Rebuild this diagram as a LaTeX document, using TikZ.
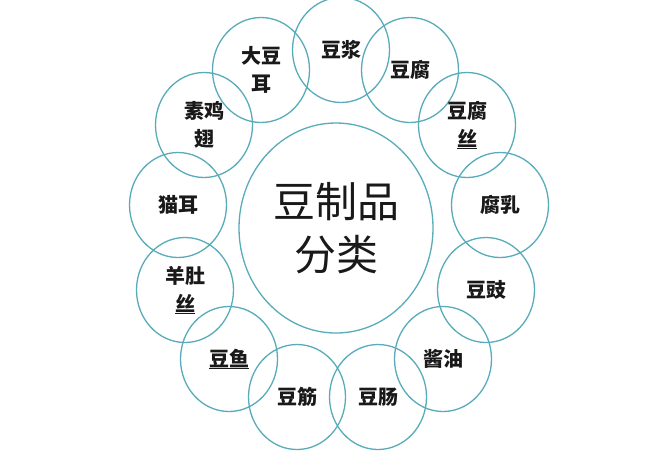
\documentclass[tikz,border=0pt]{standalone}
\usepackage{fontspec}
\newfontfamily\cjk{Noto Sans CJK SC}
\usetikzlibrary{shapes.geometric}
\definecolor{ringcol}{RGB}{88,172,186}
\tikzset{
  small/.style={ellipse, draw=ringcol, line width=1.3pt, inner sep=0pt,
    minimum width=97pt, minimum height=105pt, align=center,
    font=\cjk\bfseries\fontsize{20}{28}\selectfont, text=black!90},
  big/.style={ellipse, draw=ringcol, line width=1.3pt, inner sep=0pt,
    minimum width=194pt, minimum height=210pt, align=center,
    font=\cjk\fontsize{42}{53}\selectfont, text=black!90}
}
\begin{document}
\begin{tikzpicture}[x=1pt,y=-1pt]
\useasboundingbox (0,0) rectangle (660,451);
\fill[white] (0,0) rectangle (660,451);
\node[big] (c) at (336,228) {豆制品\\分类};
\node[small] (a1) at (341,50) {豆浆};
\node[small] (a2) at (410,70) {豆腐};
\node[small] (a3) at (467,125) {豆腐\\\underline{丝}};
\node[small] (a4) at (500,205) {腐乳};
\node[small] (a5) at (486,290) {豆豉};
\node[small] (a6) at (443,359) {酱油};
\node[small] (a7) at (378,397) {豆肠};
\node[small] (a8) at (297,397) {豆筋};
\node[small] (a9) at (229,359) {\underline{豆鱼}};
\node[small] (a10) at (185,290) {羊肚\\\underline{丝}};
\node[small] (a11) at (178,205) {猫耳};
\node[small] (a12) at (204,125) {素鸡\\翅};
\node[small] (a13) at (261,70) {大豆\\耳};
\end{tikzpicture}
\end{document}
